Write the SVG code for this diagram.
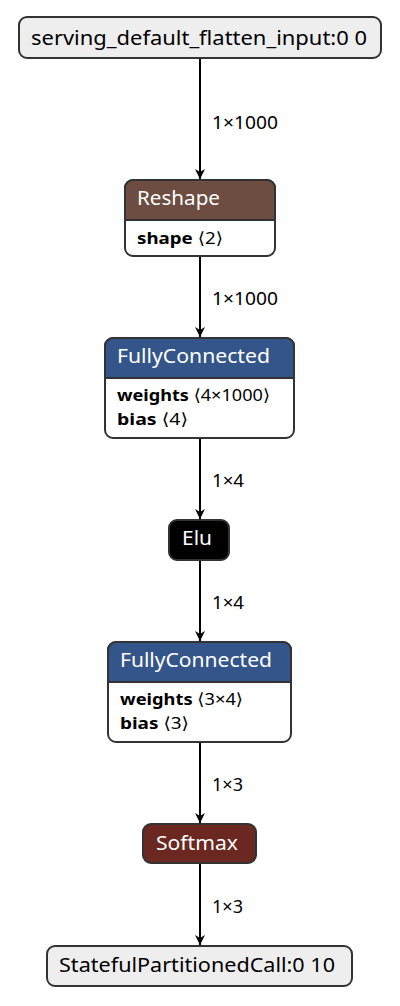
<svg xmlns="http://www.w3.org/2000/svg" width="400" height="1006" viewBox="0 0 400 1006">
<defs>
<style>
.box{stroke:#333;stroke-width:2}
.io{fill:#eee}
.body{fill:#fff}
.t{font-family:"Noto Sans","Open Sans",sans-serif;font-size:20px;fill:#000}
.h{font-family:"Noto Sans","Open Sans",sans-serif;font-size:20px;fill:#fff}
.b{font-family:"Noto Sans","DejaVu Sans",sans-serif;font-size:16.5px;fill:#000}
.b .k{font-weight:bold}
.e{stroke:#000;stroke-width:2;fill:none}
.lbl{font-family:"Noto Sans","Open Sans",sans-serif;font-size:18px;fill:#000}
</style>
<marker id="ah" markerWidth="12" markerHeight="12" viewBox="0 0 12 12" refX="10" refY="6" orient="auto" markerUnits="userSpaceOnUse">
<path d="M0,1 L10,6 L0,11 L3,6 Z" fill="#000"/>
</marker>
</defs>
<g id="connectors">
<path class="e" d="M200,58 V179" marker-end="url(#ah)"/>
<text class="lbl" x="212" y="129" textLength="66" lengthAdjust="spacingAndGlyphs">1×1000</text>
<path class="e" d="M200,256 V337" marker-end="url(#ah)"/>
<text class="lbl" x="212" y="305" textLength="66" lengthAdjust="spacingAndGlyphs">1×1000</text>
<path class="e" d="M200,438 V519" marker-end="url(#ah)"/>
<text class="lbl" x="212" y="487" textLength="32" lengthAdjust="spacingAndGlyphs">1×4</text>
<path class="e" d="M200,560 V641" marker-end="url(#ah)"/>
<text class="lbl" x="212" y="609" textLength="32" lengthAdjust="spacingAndGlyphs">1×4</text>
<path class="e" d="M200,742 V823" marker-end="url(#ah)"/>
<text class="lbl" x="212" y="791" textLength="31" lengthAdjust="spacingAndGlyphs">1×3</text>
<path class="e" d="M200,863 V945" marker-end="url(#ah)"/>
<text class="lbl" x="212" y="913" textLength="31" lengthAdjust="spacingAndGlyphs">1×3</text>
</g>
<g id="input">
<rect class="box io" x="19" y="17" width="362" height="41" rx="8"/>
<text class="t" x="31" y="45" textLength="336" lengthAdjust="spacingAndGlyphs">serving_default_flatten_input:0 0</text>
</g>
<g id="reshape">
<rect class="box body" x="125" y="180" width="150" height="76" rx="8"/>
<path d="M125,220 V188 A8,8 0 0 1 133,180 H267 A8,8 0 0 1 275,188 V220 Z" fill="#6d4c41" stroke="#333" stroke-width="2"/>
<text class="h" x="137" y="205" textLength="83" lengthAdjust="spacingAndGlyphs">Reshape</text>
<text class="b" x="137" y="244" textLength="86" lengthAdjust="spacingAndGlyphs"><tspan class="k">shape</tspan> ⟨2⟩</text>
</g>
<g id="fc1">
<rect class="box body" x="105" y="338" width="189" height="100" rx="8"/>
<path d="M105,378 V346 A8,8 0 0 1 113,338 H286 A8,8 0 0 1 294,346 V378 Z" fill="#33558a" stroke="#333" stroke-width="2"/>
<text class="h" x="117" y="363" textLength="153" lengthAdjust="spacingAndGlyphs">FullyConnected</text>
<text class="b" x="117" y="401" textLength="153" lengthAdjust="spacingAndGlyphs"><tspan class="k">weights</tspan> ⟨4×1000⟩</text>
<text class="b" x="117" y="425" textLength="71" lengthAdjust="spacingAndGlyphs"><tspan class="k">bias</tspan> ⟨4⟩</text>
</g>
<g id="elu">
<rect class="box" x="169" y="520" width="60" height="40" rx="8" fill="#000"/>
<text class="h" x="182" y="545" textLength="30" lengthAdjust="spacingAndGlyphs">Elu</text>
</g>
<g id="fc2">
<rect class="box body" x="108" y="642" width="183" height="100" rx="8"/>
<path d="M108,682 V650 A8,8 0 0 1 116,642 H283 A8,8 0 0 1 291,650 V682 Z" fill="#33558a" stroke="#333" stroke-width="2"/>
<text class="h" x="120" y="667" textLength="152" lengthAdjust="spacingAndGlyphs">FullyConnected</text>
<text class="b" x="120" y="705" textLength="123" lengthAdjust="spacingAndGlyphs"><tspan class="k">weights</tspan> ⟨3×4⟩</text>
<text class="b" x="120" y="729" textLength="69" lengthAdjust="spacingAndGlyphs"><tspan class="k">bias</tspan> ⟨3⟩</text>
</g>
<g id="softmax">
<rect class="box" x="143" y="824" width="113" height="39" rx="8" fill="#6b2820"/>
<text class="h" x="156" y="850" textLength="82" lengthAdjust="spacingAndGlyphs">Softmax</text>
</g>
<g id="output">
<rect class="box io" x="47" y="946" width="305" height="40" rx="8"/>
<text class="t" x="59" y="972" textLength="276" lengthAdjust="spacingAndGlyphs">StatefulPartitionedCall:0 10</text>
</g>
</svg>
